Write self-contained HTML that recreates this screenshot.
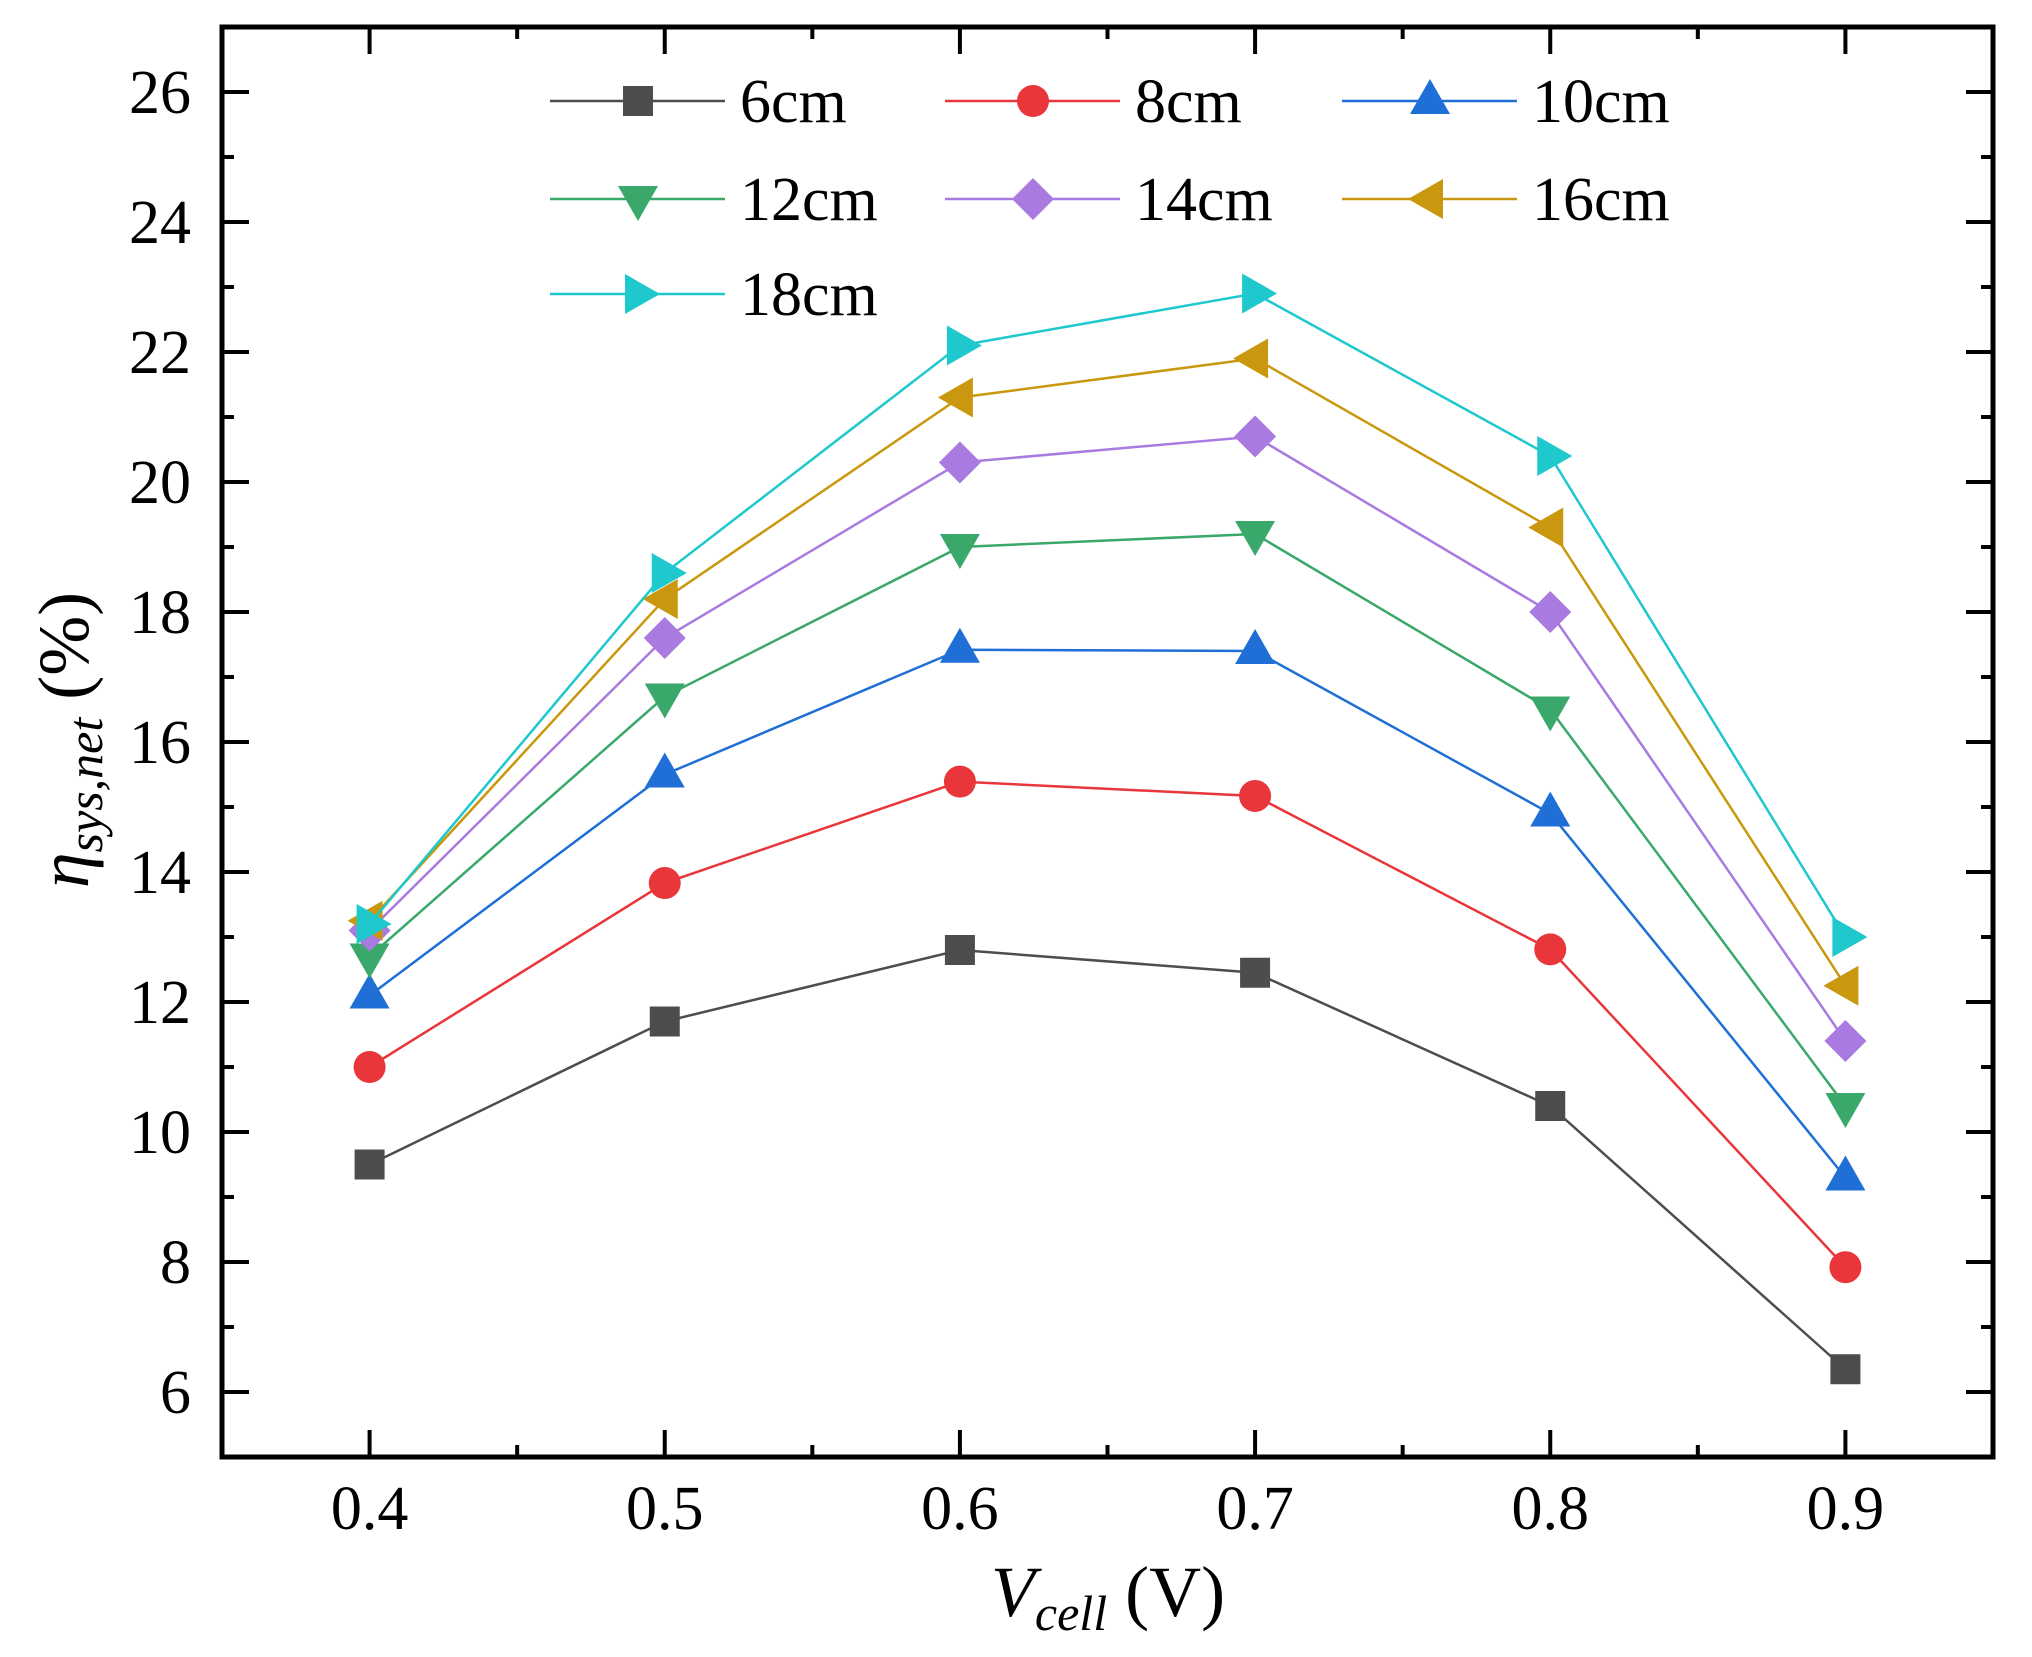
<!DOCTYPE html>
<html><head><meta charset="utf-8"><style>
html,body{margin:0;padding:0;background:#fff;}
svg{display:block;font-family:"Liberation Serif",serif;}
</style></head><body>
<svg id="chart" width="2032" height="1657" viewBox="0 0 2032 1657"></svg>
<script>
const xValues = [0.4, 0.5, 0.6, 0.7, 0.8, 0.9];
const seriesNames = ["6cm","8cm","10cm","12cm","14cm","16cm","18cm"];
const s6 = [9.5, 11.7, 12.8, 12.45, 10.4, 6.35];
const s8 = [11.0, 13.83, 15.39, 15.17, 12.81, 7.92];
const s10 = [12.1, 15.5, 17.42, 17.4, 14.9, 9.3];
const s12 = [12.7, 16.7, 19.0, 19.2, 16.5, 10.4];
const s14 = [13.1, 17.6, 20.3, 20.7, 18.0, 11.4];
const s16 = [13.25, 18.2, 21.3, 21.9, 19.3, 12.25];
const s18 = [13.2, 18.6, 22.1, 22.9, 20.4, 13.0];
const xTickLabels = ["0.4","0.5","0.6","0.7","0.8","0.9"];
const yTickLabels = ["6","8","10","12","14","16","18","20","22","24","26"];

const colors = ["#4d4d4d","#e8363a","#1f6fd6","#3aa86b","#a97be0","#c9980e","#1ec8cc"];
const shapes = ["square","circle","up","down","diamond","left","right"];
const allSeries = [s6,s8,s10,s12,s14,s16,s18];

const L=222, R=1993, T=27, B=1457;
const xMin=0.35, xMax=0.95, yMin=5, yMax=27;
const sx = v => L + (v-xMin)/(xMax-xMin)*(R-L);
const sy = v => B - (v-yMin)/(yMax-yMin)*(B-T);
const NS="http://www.w3.org/2000/svg";
const svg=document.getElementById('chart');
function mk(tag, attrs, parent){const e=document.createElementNS(NS,tag);for(const k in attrs)e.setAttribute(k,attrs[k]);(parent||svg).appendChild(e);return e;}

function marker(shape,x,y,color,parent){
  let e;
  if(shape==="square") e=mk('rect',{x:x-15,y:y-15,width:30,height:30,fill:color},parent);
  else if(shape==="circle") e=mk('circle',{cx:x,cy:y,r:16,fill:color},parent);
  else if(shape==="up") e=mk('polygon',{points:`${x},${y-22} ${x+20},${y+13} ${x-20},${y+13}`,fill:color},parent);
  else if(shape==="down") e=mk('polygon',{points:`${x},${y+22} ${x+20},${y-13} ${x-20},${y-13}`,fill:color},parent);
  else if(shape==="diamond") e=mk('polygon',{points:`${x},${y-21} ${x+21},${y} ${x},${y+21} ${x-21},${y}`,fill:color},parent);
  else if(shape==="left") e=mk('polygon',{points:`${x-22},${y} ${x+13},${y-20} ${x+13},${y+20}`,fill:color},parent);
  else e=mk('polygon',{points:`${x+22},${y} ${x-13},${y-20} ${x-13},${y+20}`,fill:color},parent);
  return e;
}

const axG=mk('g',{});


for(let v=0.4; v<=0.901; v+=0.05){
  const major=Math.abs(Math.round(v*10)-v*10)<0.01;
  const len=major?27:12, x=sx(v);
  mk('line',{x1:x,y1:B,x2:x,y2:B-len,stroke:'#000','stroke-width':4},axG);
  mk('line',{x1:x,y1:T,x2:x,y2:T+len,stroke:'#000','stroke-width':4},axG);
}
for(let v=6; v<=26; v+=1){
  const major=v%2===0, len=major?27:12, y=sy(v);
  mk('line',{x1:L,y1:y,x2:L+len,y2:y,stroke:'#000','stroke-width':4},axG);
  mk('line',{x1:R,y1:y,x2:R-len,y2:y,stroke:'#000','stroke-width':4},axG);
}
mk('rect',{x:L,y:T,width:R-L,height:B-T,fill:'none',stroke:'#000','stroke-width':5},axG);

xTickLabels.forEach((t,i)=>{
  const e=mk('text',{x:sx(xValues[i]),y:1529,'text-anchor':'middle','font-size':62},axG);
  e.textContent=t;
  
  
});
yTickLabels.forEach(t=>{
  const e=mk('text',{x:191,y:sy(+t)+21,'text-anchor':'end','font-size':62},axG);
  e.textContent=t;
  
  
});

allSeries.forEach((vals,si)=>{
  const g=mk('g',{});
  
  
  mk('polyline',{points:vals.map((v,i)=>sx(xValues[i])+','+sy(v)).join(' '),fill:'none',stroke:colors[si],'stroke-width':2.5},g);
  vals.forEach((v,i)=>{
    const m=marker(shapes[si],sx(xValues[i]),sy(v),colors[si],g);
    
    
  });
});

const lg=mk('g',{});


const colX=[550,945,1342], rowY=[101,199,294];
seriesNames.forEach((n,i)=>{
  const x0=colX[i%3], y=rowY[Math.floor(i/3)];
  const g=mk('g',{},lg);
  
  
  mk('line',{x1:x0,y1:y,x2:x0+175,y2:y,stroke:colors[i],'stroke-width':2.5},g);
  marker(shapes[i],x0+88,y,colors[i],g);
  const t=mk('text',{x:x0+190,y:y+21,'font-size':62},g);
  t.textContent=n;
});

const xt=mk('text',{x:1108,y:1616,'text-anchor':'middle','font-size':72});


xt.innerHTML='<tspan font-style="italic">V</tspan><tspan font-style="italic" font-size="50" dy="14">cell</tspan><tspan dy="-14"> (V)</tspan>';
const yt=mk('text',{x:0,y:0,'text-anchor':'middle','font-size':72,transform:'translate(88,740) rotate(-90)'});


yt.innerHTML='<tspan font-style="italic">η</tspan><tspan font-style="italic" font-size="50" dy="14">sys,net</tspan><tspan dy="-14"> (%)</tspan>';
</script>
</body></html>
